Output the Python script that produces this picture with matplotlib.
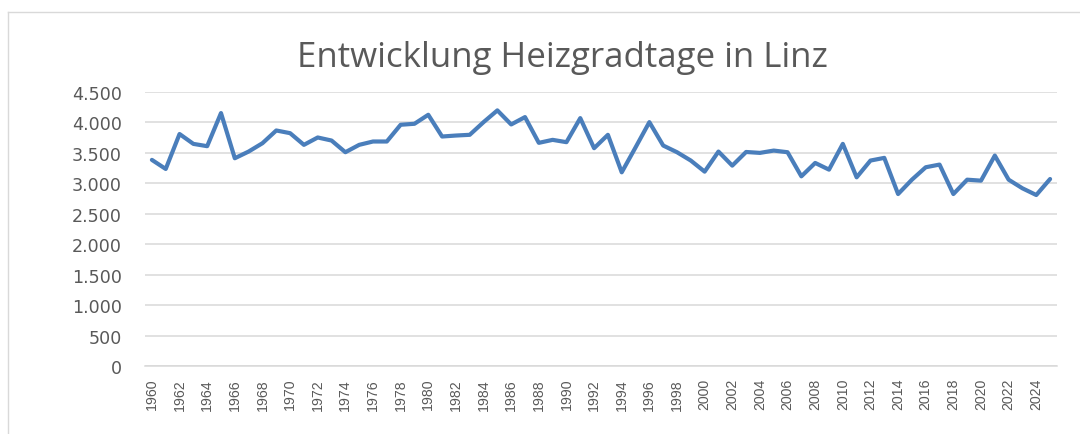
import matplotlib
matplotlib.use("Agg")
import matplotlib.pyplot as plt
from matplotlib.lines import Line2D
from matplotlib.ticker import FuncFormatter

title = "Entwicklung Heizgradtage in Linz"
years = list(range(1960, 2026))
values = [3385, 3236, 3810, 3648, 3610, 4154, 3412, 3522, 3659, 3868,
          3824, 3632, 3753, 3703, 3511, 3632, 3687, 3687, 3962, 3978,
          4126, 3769, 3785, 3797, 4005, 4198, 3967, 4088, 3665, 3714,
          3676, 4071, 3577, 3797, 3181, 3590, 4005, 3621, 3511, 3374,
          3192, 3522, 3291, 3515, 3500, 3538, 3511, 3115, 3335, 3225,
          3648, 3099, 3374, 3418, 2824, 3060, 3264, 3308, 2824, 3060,
          3044, 3456, 3060, 2918, 2808, 3071]
x_tick_years = list(range(1960, 2025, 2))
y_ticks = [0, 500, 1000, 1500, 2000, 2500, 3000, 3500, 4000, 4500]

W, H = 1080, 435
fig = plt.figure(figsize=(W / 100, H / 100), dpi=100)
fig.patch.set_facecolor("white")

# outer chart frame (partly cropped)
fig.add_artist(Line2D([8 / W, 8 / W], [0, 1 - 13.3 / H], transform=fig.transFigure,
                      color="#D9D9D9", lw=1.0))
fig.add_artist(Line2D([8 / W, 1], [1 - 13.3 / H, 1 - 13.3 / H], transform=fig.transFigure,
                      color="#D9D9D9", lw=1.0))

left, right = 145 / W, 1057 / W
top, bottom = 1 - 93 / H, 1 - 367 / H
ax = fig.add_axes([left, bottom, right - left, top - bottom])
ax.plot(years, values, color="#4A7EBB", lw=3.0, solid_joinstyle="round",
        solid_capstyle="round", zorder=3)

ax.set_xlim(1959.5, 2025.5)
ax.set_ylim(0, 4500)
ax.set_yticks(y_ticks)
ax.yaxis.set_major_formatter(FuncFormatter(lambda v, p: f"{int(v):,}".replace(",", ".")))
ax.set_xticks(x_tick_years)
ax.set_xticklabels([str(y) for y in x_tick_years], rotation=90, family="Liberation Sans",
                   fontsize=10.2, color="#595959")
for lab in ax.get_yticklabels():
    lab.set_family("DejaVu Sans")
    lab.set_fontsize(12.6)
    lab.set_color("#595959")
ax.tick_params(axis="y", length=0, pad=16.5)
ax.tick_params(axis="x", length=0, pad=8.6)
ax.grid(axis="y", color="#D9D9D9", lw=1.1)
ax.set_axisbelow(True)
for s in ["left", "right", "top"]:
    ax.spines[s].set_visible(False)
ax.spines["bottom"].set_color("#D9D9D9")
ax.spines["bottom"].set_linewidth(1.1)
ax.spines["bottom"].set_zorder(0.5)

t = fig.text(562.5 / W, 1 - 66.7 / H, title, ha="center", va="baseline",
             fontsize=22, family="Open Sans", color="#595959")
fig.canvas.draw()
w = t.get_window_extent().width
t.set_fontsize(22 * 531 / w)

fig.savefig("out.png", dpi=100, facecolor="white")
